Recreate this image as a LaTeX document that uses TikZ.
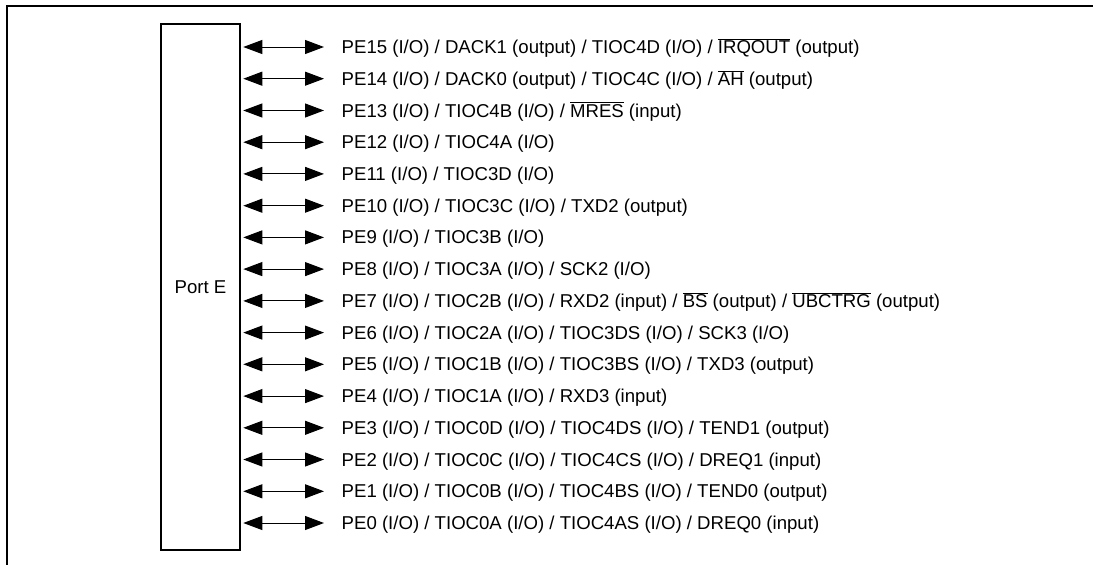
\documentclass[tikz,border=0pt]{standalone}
\usepackage{fontspec}
\setmainfont{Liberation Sans}
\usetikzlibrary{arrows.meta}
\newcommand{\negsig}[1]{$\overline{\mbox{#1}}$}
\begin{document}
\begin{tikzpicture}[x=1pt,y=-1pt,
    pin/.style={{Triangle[length=19pt,width=14pt]}-{Triangle[length=19pt,width=14pt]}, line width=1pt},
    sig/.style={anchor=west, inner sep=0pt, text height=13pt, text depth=0pt, font=\fontsize{18.6}{22}\selectfont}]
    \useasboundingbox (0,0) rectangle (1093,565);

    %frame
    \draw[line width=2.8pt] (1100,6) -- (7,6) -- (7,575);

    %port box
    \node[draw, line width=2.2pt, minimum width=78.4pt, minimum height=525.7pt, inner sep=0pt,
        font=\fontsize{18.6}{22}\selectfont] (porte) at (200.5,287.2) {Port E};

    %pin labels
    \node[sig] (pe15) at (341.5,47.0) {PE15 (I/O) / DACK1 (output) / TIOC4D (I/O) / \negsig{IRQOUT} (output)};
    \node[sig] (pe14) at (341.5,78.7) {PE14 (I/O) / DACK0 (output) / TIOC4C (I/O) / \negsig{AH} (output)};
    \node[sig] (pe13) at (341.5,110.5) {PE13 (I/O) / TIOC4B (I/O) / \negsig{MRES} (input)};
    \node[sig] (pe12) at (341.5,142.2) {PE12 (I/O) / TIOC4A (I/O)};
    \node[sig] (pe11) at (341.5,173.9) {PE11 (I/O) / TIOC3D (I/O)};
    \node[sig] (pe10) at (341.5,205.7) {PE10 (I/O) / TIOC3C (I/O) / TXD2 (output)};
    \node[sig] (pe9) at (341.5,237.4) {PE9 (I/O) / TIOC3B (I/O)};
    \node[sig] (pe8) at (341.5,269.1) {PE8 (I/O) / TIOC3A (I/O) / SCK2 (I/O)};
    \node[sig] (pe7) at (341.5,300.9) {PE7 (I/O) / TIOC2B (I/O) / RXD2 (input) / \negsig{BS} (output) / \negsig{UBCTRG} (output)};
    \node[sig] (pe6) at (341.5,332.6) {PE6 (I/O) / TIOC2A (I/O) / TIOC3DS (I/O) / SCK3 (I/O)};
    \node[sig] (pe5) at (341.5,364.3) {PE5 (I/O) / TIOC1B (I/O) / TIOC3BS (I/O) / TXD3 (output)};
    \node[sig] (pe4) at (341.5,396.1) {PE4 (I/O) / TIOC1A (I/O) / RXD3 (input)};
    \node[sig] (pe3) at (341.5,427.8) {PE3 (I/O) / TIOC0D (I/O) / TIOC4DS (I/O) / TEND1 (output)};
    \node[sig] (pe2) at (341.5,459.5) {PE2 (I/O) / TIOC0C (I/O) / TIOC4CS (I/O) / DREQ1 (input)};
    \node[sig] (pe1) at (341.5,491.3) {PE1 (I/O) / TIOC0B (I/O) / TIOC4BS (I/O) / TEND0 (output)};
    \node[sig] (pe0) at (341.5,523.0) {PE0 (I/O) / TIOC0A (I/O) / TIOC4AS (I/O) / DREQ0 (input)};

    %pin arrows
    \foreach \n in {0,...,15}
        \draw[pin] ([xshift=2.5pt]porte.east |- pe\n.west) -- ([xshift=-17.5pt]pe\n.west);
\end{tikzpicture}
\end{document}
